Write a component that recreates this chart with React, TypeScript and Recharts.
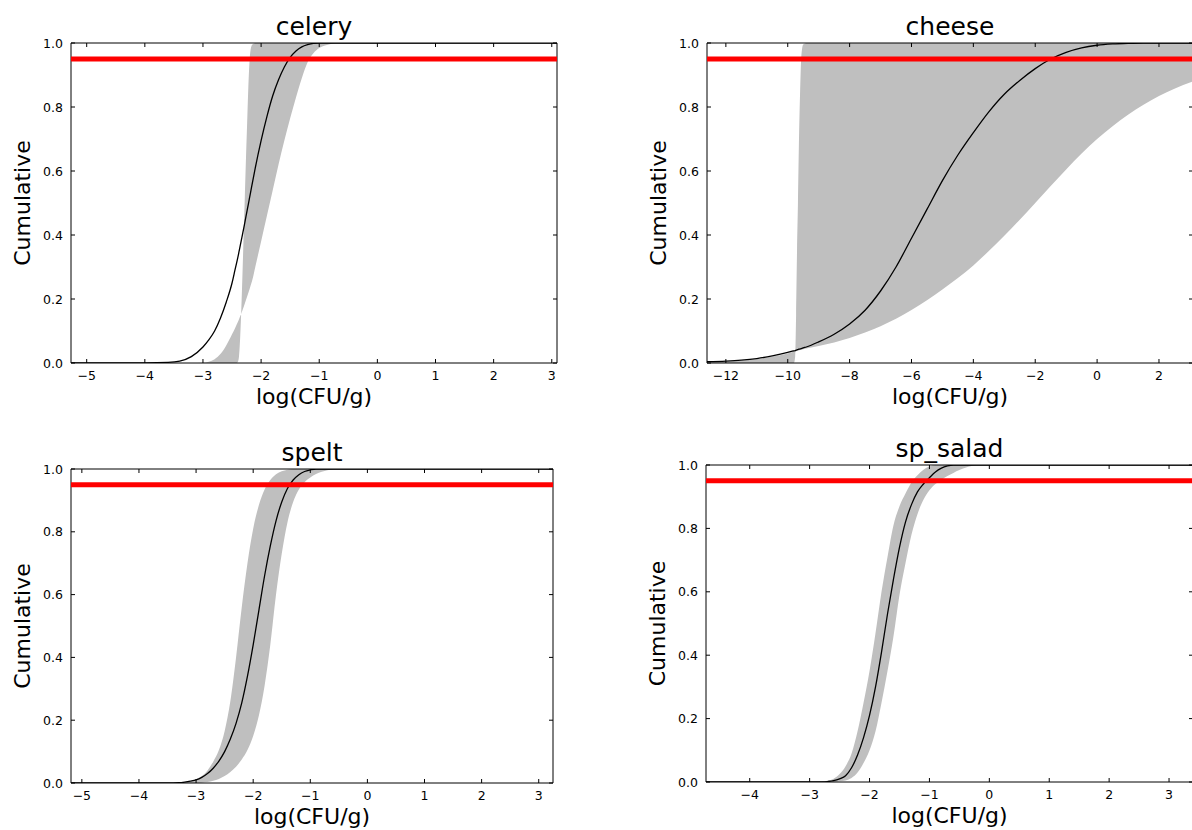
import React from 'react';
import { ComposedChart, Area, Line, XAxis, YAxis, ReferenceLine, ReferenceArea } from 'recharts';

const FONT = '"DejaVu Sans", Verdana, sans-serif';

// ---------- celery ----------
const celeryX = [-5.27, -4.0, -3.6, -3.4, -3.2, -3.0, -2.9, -2.8, -2.7, -2.6, -2.5, -2.45, -2.42, -2.4, -2.38, -2.36, -2.34, -2.32, -2.3, -2.28, -2.26, -2.24, -2.22, -2.2, -2.18, -2.15, -2.1, -2.0, -1.9, -1.8, -1.7, -1.6, -1.5, -1.4, -1.3, -1.2, -1.1, -1.0, -0.9, -0.8, -0.7, -0.5, 0, 3.09];
const celeryMean = [0, 0.0005, 0.002, 0.006, 0.02, 0.05, 0.072, 0.1, 0.14, 0.19, 0.25, 0.29, 0.314, 0.33, 0.348, 0.366, 0.384, 0.402, 0.42, 0.439, 0.458, 0.477, 0.496, 0.515, 0.534, 0.563, 0.61, 0.695, 0.77, 0.835, 0.885, 0.925, 0.955, 0.975, 0.988, 0.995, 0.999, 1, 1, 1, 1, 1, 1, 1];
const celeryUpper = [0, 0, 0, 0, 0, 0, 0, 0, 0, 0, 0, 0, 0, 0.003, 0.02, 0.08, 0.17, 0.28, 0.4, 0.52, 0.64, 0.75, 0.86, 0.94, 0.98, 0.995, 1, 1, 1, 1, 1, 1, 1, 1, 1, 1, 1, 1, 1, 1, 1, 1, 1, 1];
const celeryLower = [0, 0, 0, 0, 0, 0.001, 0.004, 0.012, 0.028, 0.055, 0.09, 0.108, 0.12, 0.128, 0.137, 0.146, 0.155, 0.165, 0.175, 0.186, 0.197, 0.208, 0.219, 0.23, 0.242, 0.26, 0.3, 0.38, 0.46, 0.54, 0.62, 0.695, 0.765, 0.83, 0.89, 0.94, 0.968, 0.984, 0.992, 0.997, 1, 1, 1, 1];
const celeryTicks = [-5, -4, -3, -2, -1, 0, 1, 2, 3];

// ---------- cheese ----------
const cheeseX = [-12.61, -12, -11.5, -11, -10.5, -10, -9.85, -9.8, -9.76, -9.73, -9.7, -9.67, -9.64, -9.6, -9.56, -9.5, -9.4, -9, -8.5, -8, -7.5, -7, -6.5, -6, -5.5, -5, -4.5, -4, -3.5, -3, -2.5, -2, -1.5, -1, -0.5, 0, 0.5, 1, 1.5, 2, 2.5, 3.1];
const cheeseMean = [0.004, 0.006, 0.009, 0.014, 0.022, 0.033, 0.037, 0.038, 0.039, 0.04, 0.041, 0.042, 0.043, 0.044, 0.045, 0.047, 0.05, 0.066, 0.09, 0.122, 0.165, 0.225, 0.3, 0.39, 0.48, 0.57, 0.65, 0.72, 0.785, 0.84, 0.883, 0.92, 0.95, 0.971, 0.985, 0.993, 0.997, 0.999, 1, 1, 1, 1];
const cheeseUpper = [0, 0, 0, 0, 0, 0, 0, 0, 0.02, 0.15, 0.35, 0.5, 0.68, 0.85, 0.96, 0.995, 1, 1, 1, 1, 1, 1, 1, 1, 1, 1, 1, 1, 1, 1, 1, 1, 1, 1, 1, 1, 1, 1, 1, 1, 1, 1];
const cheeseLower = [0.003, 0.005, 0.008, 0.012, 0.02, 0.03, 0.034, 0.035, 0.036, 0.037, 0.038, 0.039, 0.04, 0.041, 0.042, 0.043, 0.045, 0.053, 0.064, 0.078, 0.095, 0.115, 0.138, 0.166, 0.196, 0.23, 0.266, 0.305, 0.35, 0.398, 0.448, 0.5, 0.553, 0.605, 0.655, 0.7, 0.74, 0.776, 0.807, 0.834, 0.857, 0.88];
const cheeseTicks = [-12, -10, -8, -6, -4, -2, 0, 2];

// ---------- spelt ----------
const speltX = [-5.19, -4, -3.5, -3.3, -3.2, -3.1, -3.0, -2.9, -2.8, -2.7, -2.6, -2.5, -2.4, -2.3, -2.2, -2.1, -2.0, -1.9, -1.8, -1.7, -1.6, -1.5, -1.4, -1.3, -1.2, -1.1, -1.0, -0.9, -0.8, -0.7, -0.6, -0.5, 0, 3.25];
const speltMean = [0, 0, 0, 0.001, 0.003, 0.006, 0.01, 0.018, 0.03, 0.047, 0.07, 0.1, 0.14, 0.19, 0.255, 0.34, 0.44, 0.55, 0.66, 0.755, 0.835, 0.895, 0.938, 0.965, 0.982, 0.992, 0.997, 1, 1, 1, 1, 1, 1, 1];
const speltUpper = [0, 0, 0, 0, 0.002, 0.005, 0.012, 0.022, 0.04, 0.068, 0.105, 0.165, 0.26, 0.4, 0.56, 0.7, 0.81, 0.885, 0.935, 0.965, 0.983, 0.993, 0.998, 1, 1, 1, 1, 1, 1, 1, 1, 1, 1, 1];
const speltLower = [0, 0, 0, 0, 0, 0, 0, 0.001, 0.003, 0.007, 0.013, 0.022, 0.035, 0.052, 0.075, 0.105, 0.15, 0.215, 0.31, 0.44, 0.6, 0.73, 0.83, 0.895, 0.935, 0.958, 0.973, 0.984, 0.991, 0.996, 0.999, 1, 1, 1];
const speltTicks = [-5, -4, -3, -2, -1, 0, 1, 2, 3];

// ---------- sp_salad ----------
const saladX = [-4.73, -3.5, -3, -2.8, -2.7, -2.6, -2.5, -2.4, -2.3, -2.2, -2.1, -2.0, -1.9, -1.8, -1.7, -1.6, -1.5, -1.4, -1.3, -1.2, -1.1, -1.0, -0.9, -0.8, -0.7, -0.6, -0.5, -0.4, -0.3, -0.2, 0, 3.4];
const saladMean = [0, 0, 0, 0.0005, 0.0015, 0.004, 0.01, 0.02, 0.045, 0.085, 0.14, 0.21, 0.3, 0.41, 0.53, 0.64, 0.74, 0.82, 0.875, 0.915, 0.94, 0.96, 0.978, 0.99, 0.997, 1, 1, 1, 1, 1, 1, 1];
const saladUpper = [0, 0, 0, 0.001, 0.004, 0.01, 0.025, 0.05, 0.09, 0.16, 0.25, 0.35, 0.47, 0.6, 0.71, 0.81, 0.87, 0.91, 0.945, 0.968, 0.985, 0.995, 1, 1, 1, 1, 1, 1, 1, 1, 1, 1];
const saladLower = [0, 0, 0, 0, 0, 0, 0.002, 0.005, 0.013, 0.03, 0.06, 0.1, 0.16, 0.25, 0.35, 0.46, 0.59, 0.69, 0.78, 0.845, 0.89, 0.92, 0.94, 0.953, 0.965, 0.975, 0.984, 0.991, 0.997, 1, 1, 1];
const saladTicks = [-4, -3, -2, -1, 0, 1, 2, 3];

const yTicks = [0, 0.2, 0.4, 0.6, 0.8, 1.0];
const THRESHOLD = 0.95;

const fmtX = (v: number) => (v < 0 ? '\u2212' + Math.abs(v) : String(v));
const fmtY = (v: number) => v.toFixed(1);

type Geo = { cl: number; ct: number; cw: number; ch: number; pl: number; pt: number; pr: number; pb: number };

function Panel(props: {
  title: string; xs: number[]; mean: number[]; up: number[]; lo: number[];
  domain: [number, number]; ticks: number[]; g: Geo;
}) {
  const { title, xs, mean, up, lo, domain, ticks, g } = props;
  const data = xs.map((x, i) => ({ x, mean: mean[i], band: [up[i], lo[i]] }));
  const yAxisW = g.pl - g.cl;
  const mTop = g.pt - g.ct;
  const mRight = g.cl + g.cw - g.pr;
  const xAxisH = g.ct + g.ch - g.pb;
  const localTop = mTop;
  const localRight = g.pr - g.cl;

  const XTick = (p: any) => {
    const { x, y, payload } = p;
    return (
      <g>
        <line x1={x} x2={x} y1={y} y2={y - 4} stroke="#000" strokeWidth={1} />
        <line x1={x} x2={x} y1={localTop} y2={localTop + 4} stroke="#000" strokeWidth={1} />
        <text x={x} y={y + 16.5} textAnchor="middle" fontSize={12.5} fontFamily={FONT} fill="#000">
          {fmtX(payload.value)}
        </text>
      </g>
    );
  };
  const YTick = (p: any) => {
    const { x, y, payload } = p;
    return (
      <g>
        <line x1={x} x2={x + 4} y1={y} y2={y} stroke="#000" strokeWidth={1} />
        <line x1={localRight - 4} x2={localRight} y1={y} y2={y} stroke="#000" strokeWidth={1} />
        <text x={x - 8} y={y + 4.5} textAnchor="end" fontSize={12.5} fontFamily={FONT} fill="#000">
          {fmtY(payload.value)}
        </text>
      </g>
    );
  };

  return (
    <div style={{ position: 'absolute', left: g.cl, top: g.ct, width: g.cw, height: g.ch }}>
      <ComposedChart width={g.cw} height={g.ch} data={data} margin={{ top: mTop, right: mRight, bottom: 0, left: 0 }}>
        <XAxis
          dataKey="x" type="number" domain={domain} ticks={ticks} interval={0}
          allowDataOverflow height={xAxisH} tickLine={false} tickSize={0} tickMargin={0}
          axisLine={false} tick={XTick}
          label={{
            position: 'bottom',
            content: (lp: any) => {
              const vb = lp.viewBox || {};
              return (
                <text x={vb.x + vb.width / 2} y={vb.y + 41} textAnchor="middle" fontSize={22} fontFamily={FONT} fill="#000">
                  log(CFU/g)
                </text>
              );
            },
          }}
        />
        <YAxis
          type="number" domain={[0, 1]} ticks={yTicks} interval={0} allowDataOverflow
          width={yAxisW} tickLine={false} tickSize={0} tickMargin={0} axisLine={false} tick={YTick}
          label={{
            position: 'left',
            content: (lp: any) => {
              const vb = lp.viewBox || {};
              const cx = vb.x + vb.width - 41;
              const cy = vb.y + vb.height / 2;
              return (
                <text x={cx} y={cy} transform={`rotate(-90, ${cx}, ${cy})`} textAnchor="middle" fontSize={22} fontFamily={FONT} fill="#000">
                  Cumulative
                </text>
              );
            },
          }}
        />
        <Area dataKey="band" type="monotone" fill="#bfbfbf" fillOpacity={1} stroke="none" isAnimationActive={false} dot={false} activeDot={false} />
        <Line dataKey="mean" type="monotone" stroke="#000" strokeWidth={1.3} dot={false} activeDot={false} isAnimationActive={false} />
        <ReferenceLine y={THRESHOLD} stroke="#ff0000" strokeWidth={5} ifOverflow="visible" />
        <ReferenceArea
          x1={domain[0]} x2={domain[1]} y1={0} y2={1} fill="none" fillOpacity={0}
          stroke="#000" strokeWidth={1} strokeOpacity={1} ifOverflow="visible"
          label={{
            position: 'top',
            content: (lp: any) => {
              const vb = lp.viewBox || {};
              return (
                <text x={vb.x + vb.width / 2} y={vb.y - 8} textAnchor="middle" fontSize={25} fontFamily={FONT} fill="#000">
                  {title}
                </text>
              );
            },
          }}
        />
      </ComposedChart>
    </div>
  );
}

export default function App() {
  return (
    <div style={{ position: 'absolute', left: 0, top: 0, width: 1192, height: 830, overflow: 'hidden', background: '#fff' }}>
      <Panel title="celery" xs={celeryX} mean={celeryMean} up={celeryUpper} lo={celeryLower}
        domain={[-5.27, 3.09]} ticks={celeryTicks}
        g={{ cl: 0, ct: 0, cw: 600, ch: 420, pl: 71, pt: 43, pr: 557, pb: 363 }} />
      <Panel title="cheese" xs={cheeseX} mean={cheeseMean} up={cheeseUpper} lo={cheeseLower}
        domain={[-12.61, 3.1]} ticks={cheeseTicks}
        g={{ cl: 600, ct: 0, cw: 600, ch: 420, pl: 707, pt: 43, pr: 1193, pb: 363 }} />
      <Panel title="spelt" xs={speltX} mean={speltMean} up={speltUpper} lo={speltLower}
        domain={[-5.19, 3.25]} ticks={speltTicks}
        g={{ cl: 0, ct: 420, cw: 600, ch: 410, pl: 71, pt: 469, pr: 553, pb: 783 }} />
      <Panel title="sp_salad" xs={saladX} mean={saladMean} up={saladUpper} lo={saladLower}
        domain={[-4.73, 3.4]} ticks={saladTicks}
        g={{ cl: 600, ct: 420, cw: 600, ch: 410, pl: 706, pt: 465, pr: 1193, pb: 782 }} />
    </div>
  );
}
